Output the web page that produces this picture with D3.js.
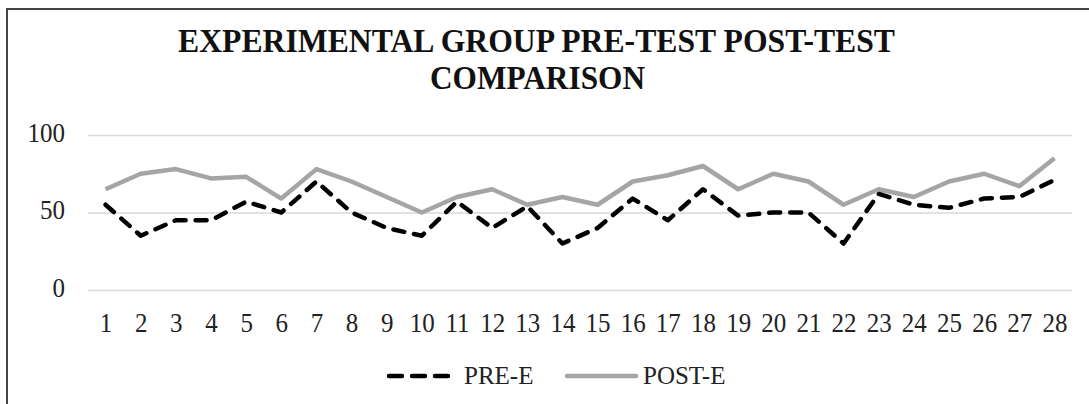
<!DOCTYPE html>
<html><head><meta charset="utf-8">
<script src="https://cdn.jsdelivr.net/npm/d3@7"></script>
<style>body{margin:0;background:#fff}svg{display:block}</style>
</head><body>
<script>
const categories = ["1","2","3","4","5","6","7","8","9","10","11","12","13","14","15","16","17","18","19","20","21","22","23","24","25","26","27","28"];
const preE  = [55,35,45,45,57,50,70,50,40,35,57,40,54,30,40,59,45,65,48,50,50,30,62,55,53,59,60,71];
const postE = [65,75,78,72,73,59,78,70,60,50,60,65,55,60,55,70,74,80,65,75,70,55,65,60,70,75,67,85];
const yTicks = [0,50,100];
const seriesNames = ["PRE-E","POST-E"];
const titleLines = ["EXPERIMENTAL GROUP PRE-TEST POST-TEST","COMPARISON"];

const W = 1089, H = 404;
const svg = d3.select("body").append("svg").attr("width", W).attr("height", H);
svg.append("rect").attr("width", W).attr("height", H).attr("fill", "#fff");
svg.append("path").attr("d", `M7,${H} L7,9 L${W},9`).attr("fill","none").attr("stroke","#444").attr("stroke-width",2);

const font = "'Liberation Serif','Times New Roman',serif";

svg.append("text").attr("x", 536.5).attr("y", 52).attr("text-anchor","middle")
  .attr("font-family", font).attr("font-weight","bold").attr("font-size", 33)
  .attr("textLength", 717).attr("lengthAdjust","spacingAndGlyphs")
  .attr("fill","#111").text(titleLines[0]);
svg.append("text").attr("x", 537.5).attr("y", 89).attr("text-anchor","middle")
  .attr("font-family", font).attr("font-weight","bold").attr("font-size", 33)
  .attr("textLength", 215).attr("lengthAdjust","spacingAndGlyphs")
  .attr("fill","#111").text(titleLines[1]);

const x0 = 88, x1 = 1072;
const x = d3.scalePoint().domain(categories).range([x0, x1]).padding(0.5);
const y = d3.scaleLinear().domain([0,100]).range([290,135]);

const gy = svg.append("g").attr("transform", `translate(${x0},0)`)
  .call(d3.axisLeft(y).tickValues(yTicks).tickSizeInner(-(x1-x0)).tickSizeOuter(0).tickPadding(23));
gy.select(".domain").remove();
gy.selectAll(".tick line").attr("stroke","#d9d9d9").attr("stroke-width",1.3);
gy.selectAll(".tick text").attr("font-family", font).attr("font-size", 25).attr("fill","#222")
  .attr("transform","scale(1,1.12)").attr("dy","0.22em");

const gx = svg.append("g").attr("transform", `translate(0,290)`)
  .call(d3.axisBottom(x).tickSize(0).tickPadding(20));
gx.select(".domain").remove();
gx.selectAll(".tick text").attr("font-family", font).attr("font-size", 25).attr("fill","#222")
  .attr("transform","scale(1,1.12)");

const line = d3.line().x((d,i)=>x(categories[i])).y(d=>y(d));
svg.append("path").datum(postE).attr("d", line).attr("fill","none")
  .attr("stroke","#a5a5a5").attr("stroke-width",4.5).attr("stroke-linejoin","round");
svg.append("path").datum(preE).attr("d", line).attr("fill","none")
  .attr("stroke","#000").attr("stroke-width",4.5).attr("stroke-linejoin","round")
  .attr("stroke-linecap","round").attr("stroke-dasharray","11,10");

const ly = 376;
const lg = svg.append("g");
lg.append("line").attr("x1",389).attr("x2",450).attr("y1",ly).attr("y2",ly)
  .attr("stroke","#000").attr("stroke-width",4.5).attr("stroke-linecap","round").attr("stroke-dasharray","13,10");
lg.append("text").attr("x",464).attr("y",ly+8).attr("font-family",font).attr("font-size",25).attr("fill","#222").text(seriesNames[0]);
lg.append("line").attr("x1",567).attr("x2",636).attr("y1",ly).attr("y2",ly)
  .attr("stroke","#a5a5a5").attr("stroke-width",4.5).attr("stroke-linecap","round");
lg.append("text").attr("x",643).attr("y",ly+8).attr("font-family",font).attr("font-size",25).attr("fill","#222").text(seriesNames[1]);
</script>
</body></html>
